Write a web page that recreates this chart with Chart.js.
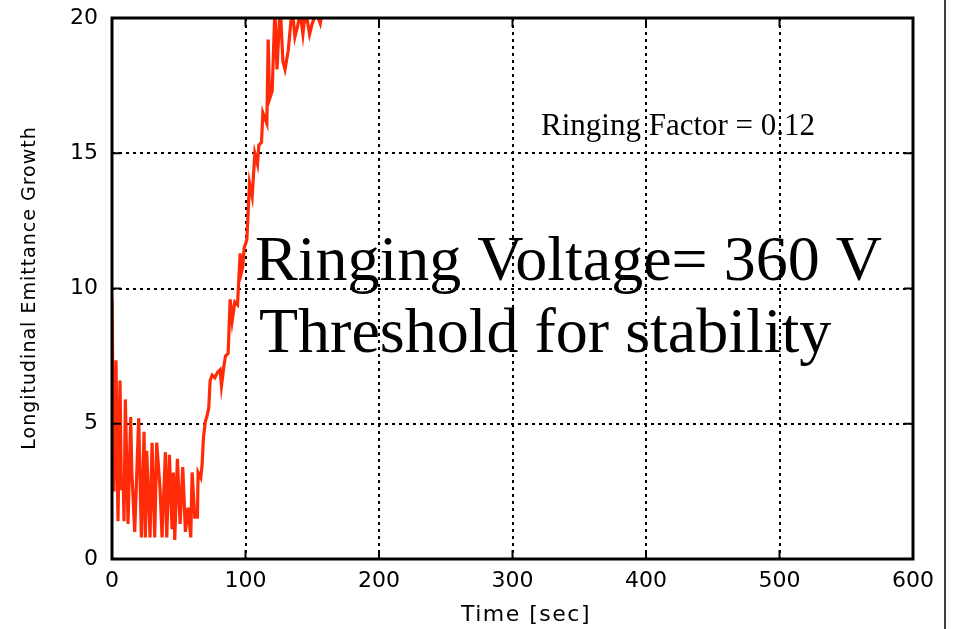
<!DOCTYPE html>
<html>
<head>
<meta charset="utf-8">
<script src="https://cdn.jsdelivr.net/npm/chart.js@4.4.0/dist/chart.umd.min.js"></script>
<style>
  html, body { margin: 0; padding: 0; background: #fff; }
  #wrap { position: relative; width: 957px; height: 629px; }
</style>
</head>
<body>
<div id="wrap"><canvas id="growthChart" width="957" height="629"></canvas></div>
<script>
// emittance growth vs time (values above 20 run off the top of the frame)
const timeSec = [0, 1.5, 3, 4.5, 6, 7, 8.5, 9, 10, 12, 14, 14.8, 17, 20, 22, 24, 25, 26, 28.5, 30,
    32, 33.5, 36, 37.5, 40, 41, 43, 45, 46, 47, 49, 51, 53, 55, 57, 59, 60, 62, 64, 64.5,
    66.5, 67.5, 68.5, 70, 71, 72.5, 73.5, 75, 77, 79, 81, 82, 84, 85, 87, 88.5, 90, 92, 94, 96,
    97, 98, 99, 101, 103, 105, 107, 109, 110, 112, 113, 116, 117, 118, 120, 122, 123.6, 126, 128, 129.6,
    132, 135, 137, 139, 141, 143, 145, 148, 150, 153, 156, 157];
const growth = [9.6, 2.5, 7.35, 1.4, 6.6, 2.6, 2.6, 1.4, 5.9, 1.3, 5.25, 3.3, 1.0, 5.2, 0.8, 4.7, 0.8, 4.0, 0.8, 4.3,
    0.8, 4.3, 2.6, 0.8, 3.95, 0.8, 3.85, 1.1, 3.2, 0.7, 3.7, 1.3, 3.4, 1.0, 1.9, 0.8, 3.2, 1.55, 1.55, 3.2,
    3.0, 3.5, 4.5, 5.1, 5.25, 5.6, 6.6, 6.8, 6.7, 6.9, 7.0, 6.4, 7.2, 7.5, 7.6, 9.6, 8.8, 9.5, 9.4, 11.3,
    10.6, 10.8, 11.5, 11.8, 13.9, 13.4, 15.0, 14.6, 15.3, 15.4, 16.5, 16.1, 19.2, 17.0, 17.3, 20.3, 18.1, 20.5, 18.4, 18.1,
    18.8, 20.4, 19.3, 19.7, 20.2, 19.4, 20.3, 19.4, 19.8, 20.2, 19.8, 20.1];

const xTicks = [0, 100, 200, 300, 400, 500, 600];
const yTicks = [0, 5, 10, 15, 20];

const xTitle = 'Time [sec]';
const yTitle = 'Longitudinal Emittance Growth';
const noteSmall = 'Ringing Factor = 0.12';
const noteBig = ['Ringing Voltage= 360 V', 'Threshold for stability'];

const points = timeSec.map((t, i) => ({ x: t, y: growth[i] }));

// frame, titles and notes drawn on top of the plot
const decorations = {
    id: 'decorations',
    afterDraw(chart) {
        const ctx = chart.ctx;
        const a = chart.chartArea;
        const xs = chart.scales.x, ys = chart.scales.y;
        ctx.save();

        // frame
        ctx.strokeStyle = '#000';
        ctx.lineWidth = 3;
        ctx.strokeRect(a.left, a.top, a.right - a.left, a.bottom - a.top);

        // inward ticks on every edge
        ctx.lineWidth = 2;
        yTicks.forEach(v => {
            const y = ys.getPixelForValue(v);
            ctx.beginPath(); ctx.moveTo(a.right - 9, y); ctx.lineTo(a.right, y); ctx.stroke();
            ctx.beginPath(); ctx.moveTo(a.left, y); ctx.lineTo(a.left + 9, y); ctx.stroke();
        });
        xTicks.forEach(v => {
            const x = xs.getPixelForValue(v);
            ctx.beginPath(); ctx.moveTo(x, a.top); ctx.lineTo(x, a.top + 9); ctx.stroke();
            ctx.beginPath(); ctx.moveTo(x, a.bottom); ctx.lineTo(x, a.bottom - 9); ctx.stroke();
        });

        // axis titles
        ctx.fillStyle = '#000';
        ctx.textAlign = 'center';
        ctx.textBaseline = 'middle';
        ctx.font = '22px "DejaVu Sans"';
        ctx.letterSpacing = '1.5px';
        ctx.fillText(xTitle, 526, 615);
        ctx.save();
        ctx.translate(30, 288);
        ctx.rotate(-Math.PI / 2);
        ctx.font = '19px "DejaVu Sans"';
        ctx.letterSpacing = '1px';
        ctx.fillText(yTitle, 0, 0);
        ctx.restore();
        ctx.letterSpacing = '0px';

        // notes
        ctx.textAlign = 'left';
        ctx.textBaseline = 'alphabetic';
        ctx.font = '31px "Liberation Serif"';
        ctx.fillText(noteSmall, 541, 135);
        ctx.font = '64px "Liberation Serif"';
        ctx.fillText(noteBig[0], 255, 280);
        ctx.fillText(noteBig[1], 259, 352);

        // thin vertical line at the right side of the page
        ctx.lineWidth = 1.5;
        ctx.beginPath(); ctx.moveTo(945, 0); ctx.lineTo(945, chart.height); ctx.stroke();
        ctx.restore();
    }
};

// keep the plot frame at fixed pixel edges
const fixEdges = s => {
    s.paddingTop = 0; s.paddingBottom = 0; s.paddingLeft = 0; s.paddingRight = 0;
};

new Chart(document.getElementById('growthChart').getContext('2d'), {
    type: 'line',
    data: {
        datasets: [{
            data: points,
            borderColor: '#ff2a08',
            borderWidth: 3.2,
            pointRadius: 0,
            tension: 0,
            fill: false
        }]
    },
    options: {
        responsive: false,
        animation: false,
        layout: { padding: { left: 0, right: 44, top: 18, bottom: 0 } },
        plugins: { legend: { display: false }, tooltip: { enabled: false } },
        scales: {
            x: {
                type: 'linear',
                min: 0, max: 600,
                afterBuildTicks: s => { s.ticks = xTicks.map(v => ({ value: v })); },
                afterFit: s => { s.height = 70; fixEdges(s); },
                grid: { color: '#000', lineWidth: 2, drawTicks: false },
                border: { display: false, dash: [3, 4] },
                ticks: { color: '#000', font: { family: 'DejaVu Sans', size: 22 }, padding: 9, maxRotation: 0 }
            },
            y: {
                min: 0, max: 20,
                afterBuildTicks: s => { s.ticks = yTicks.map(v => ({ value: v })); },
                afterFit: s => { s.width = 112; fixEdges(s); },
                grid: { color: '#000', lineWidth: 2, drawTicks: false },
                border: { display: false, dash: [3, 4] },
                ticks: { color: '#000', font: { family: 'DejaVu Sans', size: 22 }, padding: 14 }
            }
        }
    },
    plugins: [decorations]
});
</script>
</body>
</html>
